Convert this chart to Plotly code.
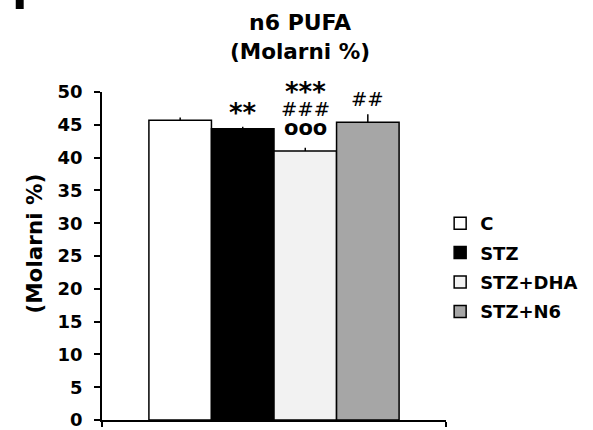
import plotly.graph_objects as go

groups = ["C", "STZ", "STZ+DHA", "STZ+N6"]
values = [45.7, 44.4, 41.0, 45.4]
errors = [0.4, 0.3, 0.5, 1.2]
colors = ["#ffffff", "#000000", "#f2f2f2", "#a6a6a6"]
sig_marks = [[], ["**"], ["***", "###", "ooo"], ["##"]]
sig_y = [[], [46.8], [50.0, 47.4, 44.5], [48.9]]
y_ticks = [0, 5, 10, 15, 20, 25, 30, 35, 40, 45, 50]

FONT = "DejaVu Sans, Verdana, sans-serif"
Y_MAX = 50

fig = go.Figure()
for i, (g, v, e, c) in enumerate(zip(groups, values, errors, colors)):
    fig.add_trace(go.Bar(
        x=[i], y=[v], name=g, width=1, legendgroup=g,
        marker=dict(color=c, line=dict(color="black", width=1.5)),
        error_y=dict(type="data", array=[e], arrayminus=[0], symmetric=False,
                     color="black", thickness=1.5, width=0),
    ))

for i, (marks, ys) in enumerate(zip(sig_marks, sig_y)):
    for m, yv in zip(marks, ys):
        if "*" in m:
            f = dict(family=FONT, size=26, color="black", weight="bold")
        elif "o" in m:
            f = dict(family=FONT, size=21, color="black", weight="bold")
        else:
            f = dict(family=FONT, size=19.5, color="black")
        fig.add_annotation(x=i, y=yv / Y_MAX, text=m, showarrow=False, font=f,
                           xref="x", yref="paper", xanchor="center", yanchor="middle")

fig.add_annotation(text="n6 PUFA", x=0.576, y=(420 - 22) / 328, xref="paper", yref="paper",
                   xanchor="center", yanchor="middle", showarrow=False,
                   font=dict(family=FONT, size=22, color="black", weight="bold"))
fig.add_annotation(text="(Molarni %)", x=0.576, y=(420 - 52) / 328, xref="paper", yref="paper",
                   xanchor="center", yanchor="middle", showarrow=False,
                   font=dict(family=FONT, size=21.5, color="black", weight="bold"))
fig.add_annotation(text="(Molarni %)", x=(33 - 102) / 347, y=(420 - 244) / 328,
                   xref="paper", yref="paper",
                   textangle=-90, showarrow=False, xanchor="center", yanchor="middle",
                   font=dict(family=FONT, size=21.5, color="black", weight="bold"))

# panel letter (cropped)
fig.add_shape(type="rect", xref="paper", yref="paper",
              x0=(15 - 102) / 347, x1=(23 - 102) / 347,
              y0=(420 - 9) / 328, y1=(420 + 2) / 328,
              fillcolor="black", line=dict(width=0))

fig.update_layout(
    width=593, height=430,
    margin=dict(l=102, r=144, t=92, b=10),
    plot_bgcolor="white", paper_bgcolor="white",
    barmode="overlay",
    showlegend=True,
    legend=dict(x=0.983, y=(420 - 205) / 328, xanchor="left", yanchor="top",
                font=dict(family=FONT, size=18, color="black", weight="bold"),
                itemwidth=30, tracegroupgap=3, bgcolor="rgba(0,0,0,0)"),
    xaxis=dict(range=[-1.25, 4.25], showline=True, linecolor="black", linewidth=1.5,
               tickvals=[-1.25, 4.25], showticklabels=False, ticks="outside", ticklen=5,
               tickcolor="black", tickwidth=1.5, showgrid=False, zeroline=False,
               automargin=False),
    yaxis=dict(range=[0, Y_MAX], tickvals=y_ticks, showline=True, linecolor="black", linewidth=1.5,
               ticks="outside", ticklen=6, tickcolor="black", tickwidth=1.5,
               showgrid=False, zeroline=False, automargin=False, ticklabelstandoff=8,
               ticklabeloverflow="allow",
               tickfont=dict(family=FONT, size=18, color="black", weight="bold")),
)
fig.write_html("out.html", config={"displayModeBar": False},
               post_script="document.body.style.margin='0';")
